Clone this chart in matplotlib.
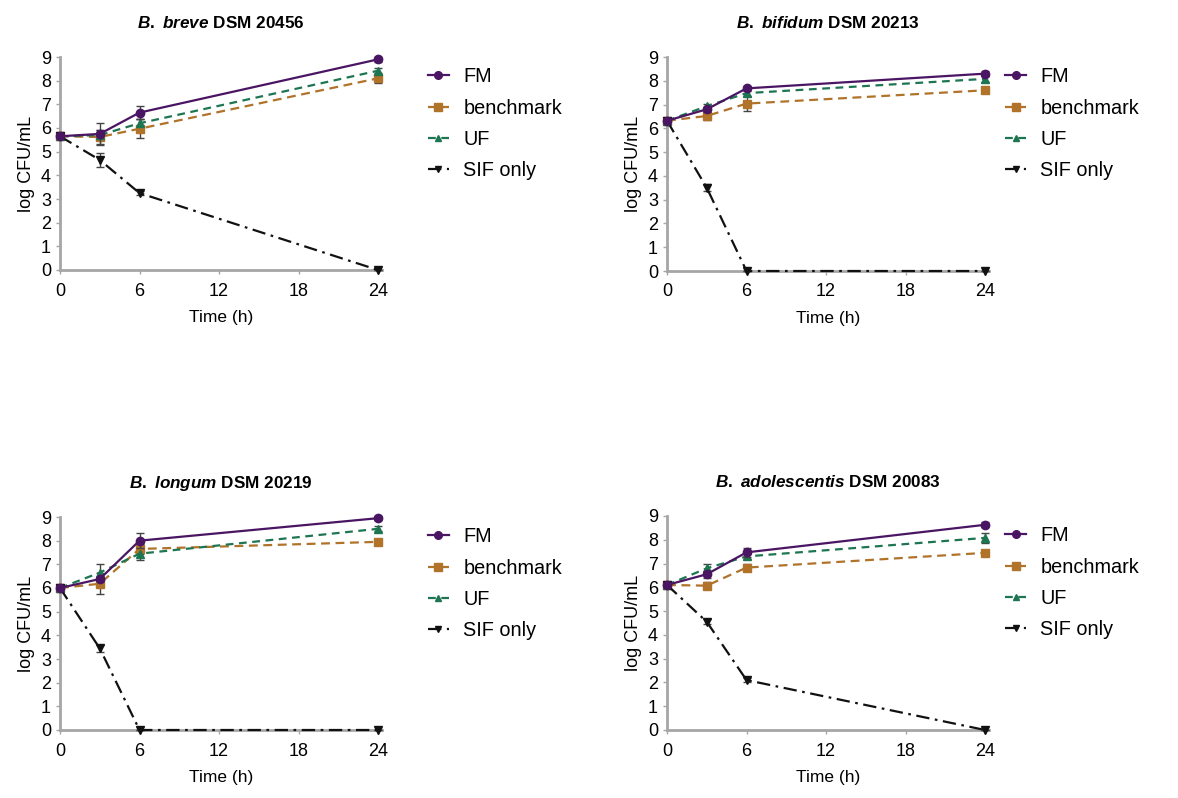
import numpy as np
import matplotlib
matplotlib.use("Agg")
from matplotlib import pyplot as plt
from matplotlib.lines import Line2D

plt.rcParams['font.family'] = ['Liberation Sans', 'DejaVu Sans']
plt.rcParams['mathtext.fontset'] = 'custom'
plt.rcParams['mathtext.it'] = 'Liberation Sans:italic:bold'
plt.rcParams['mathtext.rm'] = 'Liberation Sans:bold'

# sampling times (h)
time = [0, 3, 6, 24]

titles = [r'$\mathit{B.\ breve}$ DSM 20456',
          r'$\mathit{B.\ bifidum}$ DSM 20213',
          r'$\mathit{B.\ longum}$ DSM 20219',
          r'$\mathit{B.\ adolescentis}$ DSM 20083']

series_names = ['FM', 'benchmark', 'UF', 'SIF only']

# log CFU/mL, one list per panel
fm = [[5.65, 5.75, 6.65, 8.9],
      [6.32, 6.8, 7.68, 8.3],
      [6.0, 6.38, 8.0, 8.95],
      [6.1, 6.55, 7.47, 8.63]]
fm_err = [[0.05, 0.45, 0.27, 0.1],
          [0.05, 0.1, 0.08, 0.12],
          [0.05, 0.1, 0.33, 0.08],
          [0.05, 0.15, 0.2, 0.1]]

benchmark = [[5.65, 5.62, 5.97, 8.1],
             [6.32, 6.52, 7.04, 7.6],
             [6.0, 6.18, 7.65, 7.95],
             [6.1, 6.07, 6.83, 7.45]]
benchmark_err = [[0.05, 0.3, 0.4, 0.2],
                 [0.05, 0.18, 0.3, 0.12],
                 [0.05, 0.45, 0.2, 0.05],
                 [0.05, 0.15, 0.15, 0.1]]

uf = [[5.65, 5.7, 6.2, 8.42],
      [6.32, 6.93, 7.48, 8.08],
      [6.0, 6.65, 7.45, 8.5],
      [6.1, 6.8, 7.3, 8.08]]
uf_err = [[0.05, 0.2, 0.2, 0.1],
          [0.05, 0.08, 0.1, 0.12],
          [0.05, 0.38, 0.25, 0.1],
          [0.05, 0.18, 0.12, 0.22]]

sif = [[5.65, 4.65, 3.25, 0.0],
       [6.32, 3.5, 0.0, 0.0],
       [6.0, 3.45, 0.0, 0.0],
       [6.1, 4.55, 2.1, 0.0]]
sif_err = [[0.05, 0.3, 0.1, 0.0],
           [0.05, 0.15, 0.0, 0.0],
           [0.05, 0.15, 0.0, 0.0],
           [0.05, 0.1, 0.1, 0.0]]

colors = ['#4a1562', '#b07329', '#1d7551', '#111111']
markers = ['o', 's', '^', 'v']
styles = ['-', (0, (4, 2.5)), (0, (3.5, 2.5)), (0, (6, 2.5, 1.2, 2.5))]
msizes = [6, 6, 5.5, 5.5]

fig = plt.figure(figsize=(11.78, 7.98), dpi=100)
W, H = 1178, 798
# axes boxes in pixels: left, top, right, bottom
boxes = [(60, 57, 382, 270), (667, 57, 989, 271),
         (60, 517, 382, 730), (667, 516, 989, 730)]
legend_x = [1.086, 0.993, 1.086, 0.993]

for k in range(4):
    l, t, r, b = boxes[k]
    ax = fig.add_axes([l / W, 1 - b / H, (r - l) / W, (b - t) / H])
    data = [(fm[k], fm_err[k]), (benchmark[k], benchmark_err[k]),
            (uf[k], uf_err[k]), (sif[k], sif_err[k])]
    for j, (vals, errs) in enumerate(data):
        ax.errorbar(time, vals, yerr=errs, color=colors[j], ls=styles[j],
                    lw=1.6, marker=markers[j], ms=msizes[j],
                    mec=colors[j], ecolor='#444444', elinewidth=1,
                    capsize=3, capthick=1,
                    clip_on=False, zorder=4 if j == 0 else 3)
    ax.set_xlim(0, 24.3)
    ax.set_ylim(0, 9)
    ax.set_xticks([0, 6, 12, 18, 24])
    ax.set_yticks(range(10))
    for s in ['top', 'right']:
        ax.spines[s].set_visible(False)
    for s in ['left', 'bottom']:
        ax.spines[s].set_color('#a6a6a6')
        ax.spines[s].set_linewidth(2)
    ax.tick_params(colors='#a6a6a6', labelcolor='black', labelsize=13,
                   length=3, width=1)
    ax.tick_params(axis='x', pad=6)
    ax.set_xlabel('Time (h)', fontsize=12.5, labelpad=7.5)
    ax.set_ylabel('log CFU/mL', fontsize=13, labelpad=4)
    ax.set_title(titles[k], fontsize=12.3, fontweight='bold', pad=21)
    handles = [Line2D([], [], color=colors[j], ls=styles[j], lw=1.6,
                      marker=markers[j], ms=msizes[j] - 0.5, mec=colors[j])
               for j in range(4)]
    ax.legend(handles, series_names, loc='upper left',
              bbox_to_anchor=(legend_x[k], 1.035),
              frameon=False, fontsize=14.3, handlelength=1.1,
              labelspacing=0.62, handletextpad=0.7)

fig.savefig('out.png', dpi=100)
